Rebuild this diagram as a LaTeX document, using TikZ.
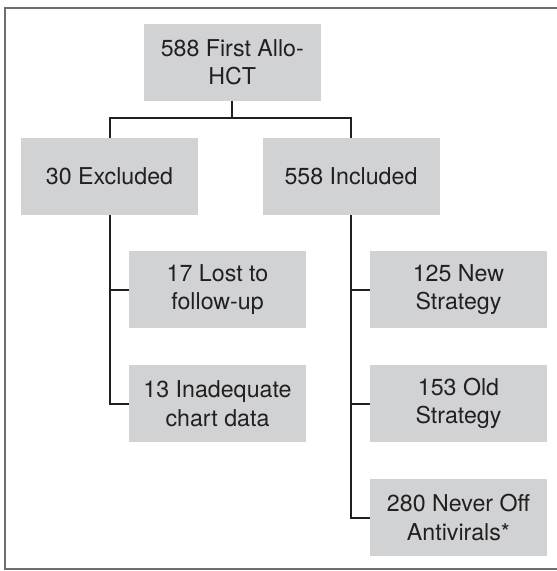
\documentclass[tikz,border=0pt]{standalone}
\usepackage{fontspec}
\setmainfont{TeX Gyre Heros}
\usepackage{tikz}
\usetikzlibrary{positioning}
\definecolor{boxgray}{HTML}{D1D2D4}
\definecolor{inkdark}{HTML}{231F20}
\definecolor{framegray}{HTML}{6D6E70}

\begin{document}
\begin{tikzpicture}[x=1pt,y=-1pt,
  box/.style={fill=boxgray, minimum width=177pt, minimum height=77pt, inner sep=0pt, align=center, text=inkdark, font=\fontsize{23.2}{28.5}\selectfont},
  link/.style={draw=inkdark, line width=2pt}]
\useasboundingbox (0,0) rectangle (557,571);
\draw[framegray, line width=2pt] (557,8) -- (4.5,8) -- (4.5,569) -- (557,569);
\node[box] (root) at (232.3,62) {588 First Allo-\\HCT};
\node[box] (excl) at (109.5,176.5) {30 Excluded};
\node[box] (incl) at (351,176.5) {558 Included};
\node[box] (lost) at (217.5,289.5) {17 Lost to\\follow-up};
\node[box] (inad) at (217.5,403.5) {13 Inadequate\\chart data};
\node[box] (new) at (458.5,289.5) {125 New\\Strategy};
\node[box] (old) at (458.5,403.5) {153 Old\\Strategy};
\node[box] (never) at (458.5,517.5) {280 Never Off\\Antivirals*};
\coordinate (split) at (232.3,118);
\draw[link] (root.south) -- (split);
\draw[link] (excl.north) |- (split) -| (incl.north);
\draw[link] (excl.south) |- (inad.west);
\draw[link] (lost.west) -- (lost.west -| excl.south);
\draw[link] (incl.south) |- (never.west);
\draw[link] (new.west) -- (new.west -| incl.south);
\draw[link] (old.west) -- (old.west -| incl.south);
\end{tikzpicture}
\end{document}
